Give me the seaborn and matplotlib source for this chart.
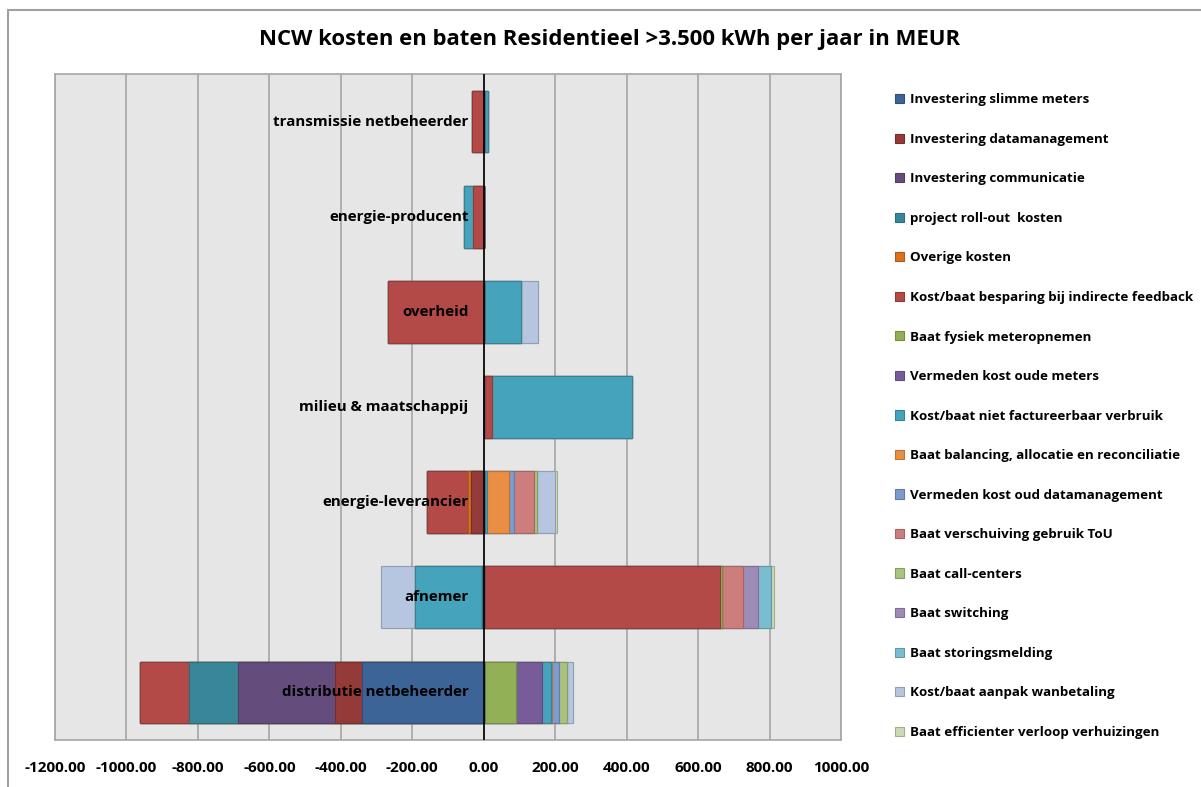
import matplotlib
matplotlib.use("Agg")
import matplotlib.pyplot as plt
import matplotlib.colors as mcolors
from matplotlib.patches import Patch, Rectangle
import numpy as np
import pandas as pd
import seaborn as sns

categories = ["transmissie netbeheerder", "energie-producent", "overheid",
              "milieu & maatschappij", "energie-leverancier", "afnemer",
              "distributie netbeheerder"]

series = ["Investering slimme meters", "Investering datamanagement",
          "Investering communicatie", "project roll-out  kosten",
          "Overige kosten", "Kost/baat besparing bij indirecte feedback",
          "Baat fysiek meteropnemen", "Vermeden kost oude meters",
          "Kost/baat niet factureerbaar verbruik",
          "Baat balancing, allocatie en reconciliatie",
          "Vermeden kost oud datamanagement", "Baat verschuiving gebruik ToU",
          "Baat call-centers", "Baat switching", "Baat storingsmelding",
          "Kost/baat aanpak wanbetaling", "Baat efficienter verloop verhuizingen"]

colors = ["#3c6496", "#943a38", "#644d7d", "#388799", "#d9711f", "#b34a47",
          "#92b056", "#775c99", "#46a3bc", "#e98e43", "#7d9bcd", "#cd7e7c",
          "#aac480", "#9d8bb8", "#7bbdd0", "#b6c6e0", "#ccdab3"]

# values per category, in series order (MEUR)
transmissie = [0, 0, 0, 0, 0, -32, 0, 0, 12, 0, 0, 0, 0, 0, 0, 0, 0]
producent = [0, 0, 0, 0, 0, -30, 0, 0, -26, 0, 0, 0, 0, 0, 0, 0, 0]
overheid = [0, 0, 0, 0, 0, -269, 0, 0, 105, 0, 0, 0, 0, 0, 0, 47, 0]
milieu = [0, 0, 0, 0, 0, 24, 0, 0, 391, 0, 0, 0, 0, 0, 0, 0, 0]
leverancier = [0, -37, 0, 0, -8, -113, 0, 0, 8, 64, 14, 56, 8, 0, 0, 49, 5]
afnemer = [0, 0, 0, -5, 0, 660, 8, 0, -188, 0, 0, 59, 0, 42, 36, -95, 7]
distributie = [-340, -75, -272, -137, 0, -137, 89, 75, 25, 3, 20, 0, 20, 0, 0, 19, 0]

xticks = [-1200, -1000, -800, -600, -400, -200, 0, 200, 400, 600, 800, 1000]

values = np.array([transmissie, producent, overheid, milieu,
                   leverancier, afnemer, distributie], dtype=float)
pos_cum = np.cumsum(np.clip(values, 0, None), axis=1)
neg_cum = np.cumsum(np.clip(values, None, 0), axis=1)

sns.set_style("white")
plt.rcParams.update({"font.family": ["Open Sans", "DejaVu Sans"],
                     "font.weight": "bold",
                     "text.color": "black",
                     "xtick.color": "black"})

fig = plt.figure(figsize=(12.01, 7.87), dpi=100)
ax = fig.add_axes([55 / 1201, 1 - 740 / 787, 786 / 1201, 666 / 787])
ax.set_facecolor("#e6e6e6")


def darker(c, f=0.8):
    r, g, b = mcolors.to_rgb(c)
    return (r * f, g * f, b * f)


# stacked bars: draw cumulative totals from the outermost series inwards
for k in range(len(series) - 1, -1, -1):
    for cum in (pos_cum, neg_cum):
        df = pd.DataFrame({"categorie": categories, "waarde": cum[:, k]})
        sns.barplot(data=df, x="waarde", y="categorie", order=categories,
                    orient="h", color=colors[k], saturation=1, width=0.65,
                    edgecolor=darker(colors[k]), linewidth=0.8,
                    errorbar=None, ax=ax, zorder=2)

ax.set_xlim(-1200, 1000)
ax.set_ylim(6.5, -0.5)
ax.set_xticks(xticks)
ax.set_xticklabels([f"{t:.2f}" for t in xticks], fontsize=11,
                   fontweight="bold", color="black")
ax.set_yticks([])
ax.set_xlabel("")
ax.set_ylabel("")
ax.tick_params(axis="x", length=0, pad=15)
ax.grid(axis="x", color="#a6a6a6", linewidth=1.2, zorder=0)
ax.set_axisbelow(True)
for s in ax.spines.values():
    s.set_color("#a6a6a6")
    s.set_linewidth(1.2)
ax.axvline(0, color="black", linewidth=1.2, zorder=4)

for i, cat in enumerate(categories):
    ax.annotate(cat, xy=(0, i), xytext=(-15, 0), textcoords="offset pixels",
                ha="right", va="center", fontsize=10.9, fontweight="bold",
                color="black", zorder=5)

fig.text(610 / 1201, 1 - 40 / 787,
         "NCW kosten en baten Residentieel >3.500 kWh per jaar in MEUR",
         ha="center", va="center", fontsize=15.9, fontweight="bold",
         color="black")

handles = [Patch(facecolor=c, edgecolor=darker(c), linewidth=0.8) for c in colors]
leg = fig.legend(handles, series, loc="upper left",
                 bbox_to_anchor=(890 / 1201, 1 - 88 / 787), frameon=False,
                 prop={"size": 9.6, "weight": "bold"}, handlelength=0.68,
                 handleheight=0.68, handletextpad=0.45, labelspacing=1.99,
                 borderaxespad=0, labelcolor="black")

fig.patches.append(Rectangle((8 / 1201, -0.02), 1.05, 1 - 10 / 787 + 0.02,
                             transform=fig.transFigure, fill=False,
                             edgecolor="#a0a0a0", linewidth=1.5))

fig.savefig("out.png", dpi=100)
